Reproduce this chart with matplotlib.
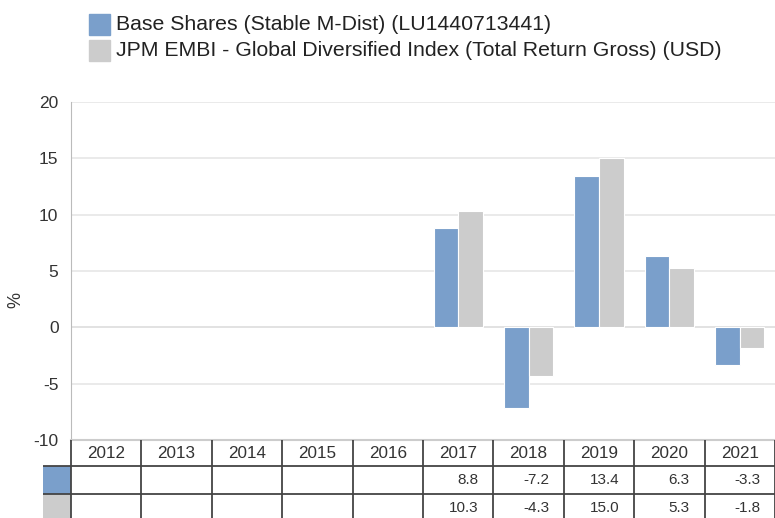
import numpy as np
import matplotlib
matplotlib.use("Agg")
import matplotlib.pyplot as plt
from matplotlib.patches import Rectangle

# --- Datos ---
years = ["2012", "2013", "2014", "2015", "2016", "2017", "2018", "2019", "2020", "2021"]
fund = [None, None, None, None, None, 8.8, -7.2, 13.4, 6.3, -3.3]
index = [None, None, None, None, None, 10.3, -4.3, 15.0, 5.3, -1.8]
series_names = ["Base Shares (Stable M-Dist) (LU1440713441)",
                "JPM EMBI - Global Diversified Index (Total Return Gross) (USD)"]
colors = ["#7a9fcb", "#cccccc"]
yticks = [-10, -5, 0, 5, 10, 15, 20]

plt.rcParams['font.family'] = ['Liberation Sans', 'DejaVu Sans']

W, H = 775, 518
fig = plt.figure(figsize=(W / 100, H / 100), dpi=100)

def px(x0, y0, x1, y1):
    # caja en pixeles (origen arriba-izquierda) -> coords de figura
    return [x0 / W, 1 - y1 / H, (x1 - x0) / W, (y1 - y0) / H]

# --- Grafico de barras ---
ax = fig.add_axes(px(71, 102, 775, 440))
x = np.arange(len(years))
bw = 0.35
for k, (vals, col) in enumerate([(fund, colors[0]), (index, colors[1])]):
    xs = [xi for xi, v in zip(x, vals) if v is not None]
    vs = [v for v in vals if v is not None]
    off = (k - 0.5) * bw
    ax.bar(np.array(xs) + off, vs, width=bw, color=col, edgecolor="white",
           linewidth=0.8, zorder=3)

ax.set_xlim(-0.5, len(years) - 0.5)
ax.set_ylim(-10, 20)
ax.set_yticks(yticks)
ax.set_yticklabels([str(t) for t in yticks], fontsize=12.5, color="#333333")
ax.set_xticks([])
ax.tick_params(axis="y", length=0, pad=9)
for t in yticks:
    ax.axhline(t, color="#dddddd" if t == 0 else "#e6e6e6", lw=1.2, zorder=1)
for s in ["top", "right", "bottom"]:
    ax.spines[s].set_visible(False)
ax.spines["left"].set_color("#bbbbbb")
fig.text(16 / W, 1 - 300 / H, "%", rotation=90, fontsize=13, color="#333333",
         ha="center", va="center")

# --- Leyenda ---
for i, (name, col) in enumerate(zip(series_names, colors)):
    y0 = 14 + i * 26
    fig.patches.append(Rectangle((89 / W, 1 - (y0 + 21) / H), 21 / W, 21 / H,
                                 transform=fig.transFigure, color=col))
    fig.text(116 / W, 1 - (y0 + 10.5) / H, name, fontsize=15.3, color="#222222",
             va="center", ha="left")

# --- Tabla ---
row_h = [26, 28, 28]
tab = fig.add_axes(px(43, 440, 775, 440 + sum(row_h)))
sw = 28 / 70.4
tab.set_xlim(-0.5 - sw, len(years) - 0.5)
tab.set_ylim(sum(row_h), 0)
tab.axis("off")
edge = "#444444"
yb = np.cumsum([0] + row_h)
# bordes
tab.plot([-0.5, len(years) - 0.5], [0, 0], color="#cccccc", lw=1.5, clip_on=False)
for yy in yb[1:3]:
    tab.plot([-0.5 - sw, len(years) - 0.5], [yy, yy], color=edge, lw=1.3)
for i in range(len(years) + 1):
    tab.plot([i - 0.5, i - 0.5], [0, yb[-1]], color=edge, lw=1.3)
# muestras de color
for r, col in enumerate(colors):
    tab.add_patch(Rectangle((-0.5 - sw, yb[r + 1]), sw, row_h[r + 1],
                            color=col, lw=0))
# textos
for i, yr in enumerate(years):
    tab.text(i, row_h[0] / 2 + 1, yr, ha="center", va="center",
             fontsize=12.3, color="#333333")
for r, vals in enumerate([fund, index]):
    for i, v in enumerate(vals):
        if v is None:
            continue
        tab.text(i + 0.29, (yb[r + 1] + yb[r + 2]) / 2, f"{v:.1f}",
                 ha="right", va="center", fontsize=11, color="#333333")

fig.savefig("out.png", dpi=100)
